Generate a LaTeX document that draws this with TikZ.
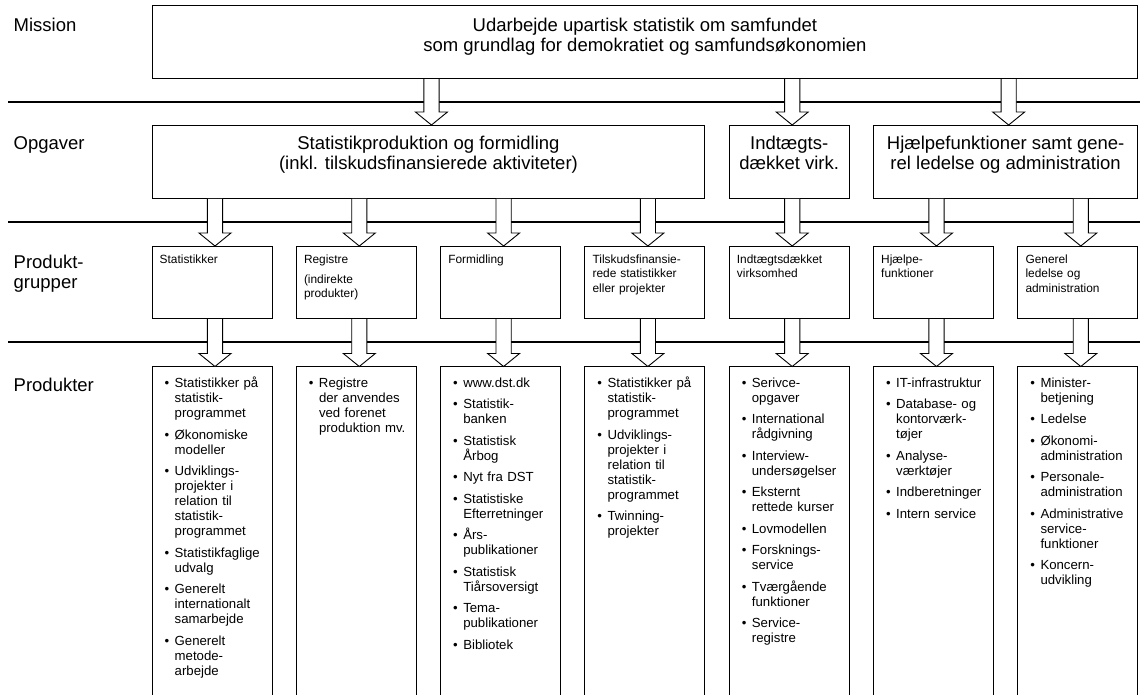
\documentclass[tikz,border=0pt]{standalone}
\usepackage{fontspec}
\setmainfont{Liberation Sans}
\usetikzlibrary{calc}
\hyphenpenalty=10000
\exhyphenpenalty=10000
\newcommand\bul{\leavevmode\llap{\textbullet\hspace{5.5pt}}}
\newcommand\blockarrow[2]{%
  \filldraw[blk] let \p1=(#1.south), \p2=([xshift=3pt]#2.north) in
    ({\x2-7.6pt},{\y1-0.7pt}) -- ({\x2-7.6pt},{\y2+13pt}) -- ({\x2-16pt},{\y2+13pt})
    -- (\x2,\y2) -- ({\x2+16pt},{\y2+13pt}) -- ({\x2+7.6pt},{\y2+13pt}) -- ({\x2+7.6pt},{\y1-0.7pt});}
\begin{document}
\begin{tikzpicture}[x=1pt,y=-1pt,
  frame/.style={draw=black, line width=0.9pt, fill=white, inner sep=0pt, outer sep=0pt, anchor=north west},
  big/.style={font=\fontsize{18.5}{20}\selectfont, align=center, inner sep=0pt, anchor=north, execute at begin node={\rule{0pt}{14pt}}},
  lbl/.style={font=\fontsize{18.5}{20}\selectfont, align=left, inner sep=0pt, anchor=north west, execute at begin node={\rule{0pt}{14pt}}},
  grp/.style={font=\fontsize{11.9}{14.7}\selectfont, align=left, text width=112pt, inner sep=0pt, anchor=north west, execute at begin node={\rule{0pt}{9pt}}},
  prod/.style={font=\fontsize{13.2}{15}\selectfont, align=left, text width=100pt, inner sep=0pt, anchor=north west, execute at begin node={\rule{0pt}{10pt}}},
  hline/.style={line width=2.2pt},
  blk/.style={draw=black, line width=0.9pt, fill=white, line join=miter}
]
\useasboundingbox (0,0) rectangle (1140,694);
\clip (0,0) rectangle (1140,694);
\fill[white] (0,0) rectangle (1140,694);

% row labels
\node[lbl] (lm) at (13.5,17.5) {Mission};
\node[lbl] (lo) at (13.5,135.7) {Opgaver};
\node[lbl] (lg) at (13.5,254.5) {Produkt-\\grupper};
\node[lbl] (lp) at (13.5,377.6) {Produkter};

% mission
\node[frame, minimum width=985.8pt, minimum height=72.8pt] (mis) at (152,5.7) {};
\node[big] (mist) at ([yshift=-11.7pt]mis.north) {Udarbejde upartisk statistik om samfundet\\som grundlag for demokratiet og samfundsøkonomien};

% opgaver
\node[frame, minimum width=552.9pt, minimum height=73.2pt] (o1) at (152,125) {};
\node[frame, minimum width=120pt, minimum height=73.2pt] (o2) at (729.2,125) {};
\node[frame, minimum width=264.3pt, minimum height=73.2pt] (o3) at (873.5,125) {};
\node[big] (o1t) at ([yshift=-10.7pt]o1.north) {Statistikproduktion og formidling\\(inkl. tilskudsfinansierede aktiviteter)};
\node[big] (o2t) at ([yshift=-10.7pt]o2.north) {Indtægts-\\dækket virk.};
\node[big] (o3t) at ([yshift=-10.7pt]o3.north) {Hjælpefunktioner samt gene-\\rel ledelse og administration};

% produktgrupper
\node[frame, minimum width=120pt, minimum height=72.5pt] (g1) at (152,246) {};
\node[frame, minimum width=120pt, minimum height=72.5pt] (g2) at (296.3,246) {};
\node[frame, minimum width=120pt, minimum height=72.5pt] (g3) at (440.6,246) {};
\node[frame, minimum width=120pt, minimum height=72.5pt] (g4) at (584.9,246) {};
\node[frame, minimum width=120pt, minimum height=72.5pt] (g5) at (729.2,246) {};
\node[frame, minimum width=120pt, minimum height=72.5pt] (g6) at (873.5,246) {};
\node[frame, minimum width=120pt, minimum height=72.5pt] (g7) at (1017.8,246) {};
\node[grp] (g1t) at ([xshift=7.5pt,yshift=-8pt]g1.north west) {Statistikker};
\node[grp] (g2t) at ([xshift=7.5pt,yshift=-8pt]g2.north west) {Registre\\[5.3pt](indirekte\\produkter)};
\node[grp] (g3t) at ([xshift=7.5pt,yshift=-8pt]g3.north west) {Formidling};
\node[grp] (g4t) at ([xshift=7.5pt,yshift=-8pt]g4.north west) {Tilskudsfinansie-\\rede statistikker\\eller projekter};
\node[grp] (g5t) at ([xshift=7.5pt,yshift=-8pt]g5.north west) {Indtægtsdækket\\virksomhed};
\node[grp] (g6t) at ([xshift=7.5pt,yshift=-8pt]g6.north west) {Hjælpe-\\funktioner};
\node[grp] (g7t) at ([xshift=7.5pt,yshift=-8pt]g7.north west) {Generel\\ledelse og\\administration};

% produkter
\node[frame, minimum width=120pt, minimum height=340pt] (p1) at (152,366.5) {};
\node[frame, minimum width=120pt, minimum height=340pt] (p2) at (296.3,366.5) {};
\node[frame, minimum width=120pt, minimum height=340pt] (p3) at (440.6,366.5) {};
\node[frame, minimum width=120pt, minimum height=340pt] (p4) at (584.9,366.5) {};
\node[frame, minimum width=120pt, minimum height=340pt] (p5) at (729.2,366.5) {};
\node[frame, minimum width=120pt, minimum height=340pt] (p6) at (873.5,366.5) {};
\node[frame, minimum width=120pt, minimum height=340pt] (p7) at (1017.8,366.5) {};

\node[prod] (p1t) at ([xshift=22.5pt,yshift=-10.5pt]p1.north west) {\bul Statistikker på\\statistik-\\programmet\\[6.5pt]\bul Økonomiske\\modeller\\[6.5pt]\bul Udviklings-\\projekter i\\relation til\\statistik-\\programmet\\[6.5pt]\bul Statistikfaglige\\udvalg\\[6.5pt]\bul Generelt\\internationalt\\samarbejde\\[6.5pt]\bul Generelt\\metode-\\arbejde};
\node[prod] (p2t) at ([xshift=22.5pt,yshift=-10.5pt]p2.north west) {\bul Registre\\der anvendes\\ved forenet\\produktion mv.};
\node[prod] (p3t) at ([xshift=22.5pt,yshift=-10.5pt]p3.north west) {\bul www.dst.dk\\[6.5pt]\bul Statistik-\\banken\\[6.5pt]\bul Statistisk\\Årbog\\[6.5pt]\bul Nyt fra DST\\[6.5pt]\bul Statistiske\\Efterretninger\\[6.5pt]\bul Års-\\publikationer\\[6.5pt]\bul Statistisk\\Tiårsoversigt\\[6.5pt]\bul Tema-\\publikationer\\[6.5pt]\bul Bibliotek};
\node[prod] (p4t) at ([xshift=22.5pt,yshift=-10.5pt]p4.north west) {\bul Statistikker på\\statistik-\\programmet\\[6.5pt]\bul Udviklings-\\projekter i\\relation til\\statistik-\\programmet\\[6.5pt]\bul Twinning-\\projekter};
\node[prod] (p5t) at ([xshift=22.5pt,yshift=-10.5pt]p5.north west) {\bul Serivce-\\opgaver\\[6.5pt]\bul International\\rådgivning\\[6.5pt]\bul Interview-\\undersøgelser\\[6.5pt]\bul Eksternt\\rettede kurser\\[6.5pt]\bul Lovmodellen\\[6.5pt]\bul Forsknings-\\service\\[6.5pt]\bul Tværgående\\funktioner\\[6.5pt]\bul Service-\\registre};
\node[prod] (p6t) at ([xshift=22.5pt,yshift=-10.5pt]p6.north west) {\bul IT-infrastruktur\\[6.5pt]\bul Database- og\\kontorværk-\\tøjer\\[6.5pt]\bul Analyse-\\værktøjer\\[6.5pt]\bul Indberetninger\\[6.5pt]\bul Intern service};
\node[prod] (p7t) at ([xshift=22.5pt,yshift=-10.5pt]p7.north west) {\bul Minister-\\betjening\\[6.5pt]\bul Ledelse\\[6.5pt]\bul Økonomi-\\administration\\[6.5pt]\bul Personale-\\administration\\[6.5pt]\bul Administrative\\service-\\funktioner\\[6.5pt]\bul Koncern-\\udvikling};

% separating lines
\draw[hline] (8,101.7) -- (1140,101.7);
\draw[hline] (8,221.7) -- (1140,221.7);
\draw[hline] (8,341.7) -- (1140,341.7);

% block arrows
\blockarrow{mis}{o1}
\blockarrow{mis}{o2}
\blockarrow{mis}{o3}
\blockarrow{o1}{g1}
\blockarrow{o1}{g2}
\blockarrow{o1}{g3}
\blockarrow{o1}{g4}
\blockarrow{o2}{g5}
\blockarrow{o3}{g6}
\blockarrow{o3}{g7}
\blockarrow{g1}{p1}
\blockarrow{g2}{p2}
\blockarrow{g3}{p3}
\blockarrow{g4}{p4}
\blockarrow{g5}{p5}
\blockarrow{g6}{p6}
\blockarrow{g7}{p7}
\end{tikzpicture}
\end{document}
